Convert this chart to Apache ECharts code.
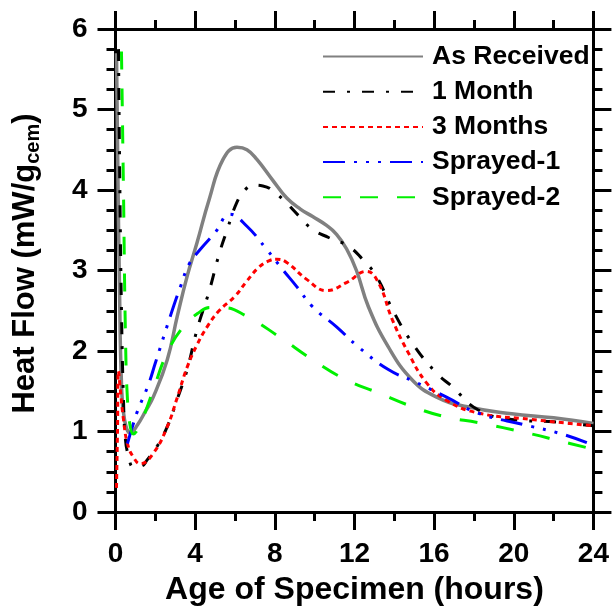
<!DOCTYPE html>
<html>
<head>
<meta charset="utf-8">
<title>Heat Flow</title>
<script src="https://cdn.jsdelivr.net/npm/echarts@6/dist/echarts.min.js"></script>
<style>
  html, body { margin: 0; padding: 0; background: #fff; }
  #heatFlowChart { width: 612px; height: 614px; }
</style>
</head>
<body>
<div id="heatFlowChart"></div>
<script>
// [age (hours), heat flow (mW/g cem)]
var asReceived = [[0.05, 5.7], [0.12, 4.2], [0.2, 2.8], [0.3, 1.6], [0.45, 1.15], [0.75, 0.98], [1.1, 1.08],
  [1.5, 1.25], [1.9, 1.43], [2.6, 1.89], [3.1, 2.43], [3.6, 2.93], [4.1, 3.35], [4.7, 3.88], [5.4, 4.38],
  [6.1, 4.53], [6.6, 4.5], [7.1, 4.38], [7.9, 4.12], [8.6, 3.9], [9.3, 3.76], [9.9, 3.67], [10.6, 3.56],
  [11.1, 3.45], [11.6, 3.27], [12.1, 3.0], [12.7, 2.55], [13.7, 2.05], [14.9, 1.64], [16.1, 1.43],
  [17.6, 1.31], [19.9, 1.22], [22, 1.17], [24, 1.1]]
var oneMonth = [[0.15, 5.75], [0.22, 4.0], [0.3, 2.5], [0.4, 1.4], [0.5, 0.9], [0.65, 0.7], [0.9, 0.56],
  [1.3, 0.57], [1.6, 0.65], [2.1, 0.82], [2.6, 1.06], [3.1, 1.4], [3.6, 1.77], [4.1, 2.27], [4.7, 2.74],
  [5.2, 3.2], [5.6, 3.5], [6.1, 3.85], [6.5, 4.0], [6.9, 4.06], [7.4, 4.05], [7.8, 4.01], [8.5, 3.86],
  [9.2, 3.68], [9.9, 3.51], [10.7, 3.41], [11.7, 3.3], [12.4, 3.14], [13.1, 2.93], [13.9, 2.52], [14.9, 2.1],
  [16.1, 1.73], [16.9, 1.56], [18.2, 1.27], [19.9, 1.15], [22, 1.12], [24, 1.07]]
var threeMonths = [[0.05, 0.3], [0.1, 1.0], [0.15, 1.75], [0.25, 1.5], [0.4, 1.15], [0.6, 0.85], [0.9, 0.68],
  [1.25, 0.6], [1.9, 0.73], [2.6, 1.06], [3.1, 1.42], [3.6, 1.8], [4.1, 2.08], [4.6, 2.3], [5.2, 2.5],
  [6.0, 2.68], [6.6, 2.87], [7.2, 3.04], [7.7, 3.12], [8.1, 3.14], [8.6, 3.1], [9.6, 2.89], [10.6, 2.75],
  [11.6, 2.85], [12.6, 2.99], [13.2, 2.85], [13.9, 2.39], [14.7, 1.98], [15.6, 1.61], [16.6, 1.39],
  [18.2, 1.23], [20.9, 1.15], [24, 1.07]]
var sprayed1 = [[0.6, 0.85], [0.85, 1.06], [1.1, 1.25], [1.65, 1.58], [2.0, 1.85], [2.75, 2.43], [3.25, 2.79],
  [3.7, 3.08], [4.25, 3.26], [5.0, 3.47], [5.75, 3.7], [6.6, 3.55], [7.6, 3.26], [8.4, 3.01], [9.1, 2.8],
  [9.9, 2.55], [11.1, 2.3], [12.2, 2.05], [13.7, 1.77], [15.1, 1.61], [16.6, 1.43], [18.2, 1.23],
  [20.6, 1.08], [22.4, 0.97], [24, 0.83]]
var sprayed2 = [[0.3, 5.72], [0.4, 4.0], [0.5, 2.2], [0.6, 1.4], [0.75, 1.05], [0.9, 0.97], [1.1, 1.02],
  [1.4, 1.18], [1.9, 1.52], [2.6, 1.98], [3.4, 2.3], [4.2, 2.48], [4.75, 2.54], [5.4, 2.54], [6.6, 2.43],
  [8.2, 2.18], [9.9, 1.89], [11.6, 1.64], [13.2, 1.48], [14.9, 1.31], [16.6, 1.18], [18.2, 1.11],
  [20.7, 0.98], [22.5, 0.87], [24, 0.78]]

var seriesNames = ['As Received', '1 Month', '3 Months', 'Sprayed-1', 'Sprayed-2']
var xTicks = [0, 4, 8, 12, 16, 20, 24]
var yTicks = [0, 1, 2, 3, 4, 5, 6]

var font = '"Liberation Sans", Arial, sans-serif'
var chart = echarts.init(document.getElementById('heatFlowChart'))

var lineLooks = [
  { color: '#808080', width: 3.5, type: 'solid' },
  { color: '#000000', width: 3, type: [12, 12, 3, 12] },
  { color: '#ff0000', width: 3, type: [5, 4] },
  { color: '#0000ff', width: 3, type: [22, 9, 3, 9, 3, 9, 3, 9] },
  { color: '#00f000', width: 3, type: [18, 19] }
]
var allData = [asReceived, oneMonth, threeMonths, sprayed1, sprayed2]

var series = []
for (var i = 0; i < allData.length; i++) {
  series.push({
    name: seriesNames[i],
    type: 'line',
    data: allData[i],
    smooth: 0.45,
    symbol: 'none',
    color: lineLooks[i].color,
    lineStyle: {
      color: lineLooks[i].color,
      width: lineLooks[i].width,
      type: lineLooks[i].type,
      cap: 'butt'
    }
  })
}

function frameAxis (pos, ticks, minorSplit, showLabel) {
  return {
    type: 'value',
    position: pos,
    min: ticks[0],
    max: ticks[ticks.length - 1],
    interval: ticks[1] - ticks[0],
    axisLine: { show: true, onZero: false, lineStyle: { color: '#000', width: 3 } },
    axisTick: { show: true, length: 18, lineStyle: { color: '#000', width: 3 } },
    minorTick: { show: true, splitNumber: minorSplit, length: 9, lineStyle: { color: '#000', width: 3 } },
    splitLine: { show: false },
    axisLabel: {
      show: showLabel,
      margin: 28,
      color: '#000',
      fontFamily: font,
      fontWeight: 'bold',
      fontSize: 28
    }
  }
}

var xBottom = frameAxis('bottom', xTicks, 2, true)
xBottom.name = 'Age of Specimen (hours)'
xBottom.nameLocation = 'middle'
xBottom.nameGap = 62
xBottom.nameTextStyle = { color: '#000', fontFamily: font, fontWeight: 'bold', fontSize: 32 }

var yLeft = frameAxis('left', yTicks, 4, true)
yLeft.name = '{a|Heat Flow (mW/g}{s|cem}{a|)}'
yLeft.nameLocation = 'middle'
yLeft.nameGap = 71
yLeft.nameTextStyle = {
  padding: [0, 0, 0, 14],
  rich: {
    a: { color: '#000', fontFamily: font, fontWeight: 'bold', fontSize: 31, lineHeight: 38 },
    s: { color: '#000', fontFamily: font, fontWeight: 'bold', fontSize: 20, lineHeight: 38, padding: [15, 0, 0, 0] }
  }
}

chart.setOption({
  animation: false,
  backgroundColor: '#fff',
  grid: { left: 115, right: 16, top: 29, bottom: 102, containLabel: false },
  legend: {
    orient: 'vertical',
    left: 322,
    top: 43,
    padding: 0,
    itemWidth: 100,
    itemHeight: 14,
    itemGap: 8.2,
    data: seriesNames,
    itemStyle: { opacity: 0 },
    textStyle: { color: '#000', fontFamily: font, fontWeight: 'bold', fontSize: 26.5, lineHeight: 26, padding: [0, 0, 0, 4] }
  },
  xAxis: [xBottom, frameAxis('top', xTicks, 2, false)],
  yAxis: [yLeft, frameAxis('right', yTicks, 4, false)],
  series: series
})
</script>
</body>
</html>
